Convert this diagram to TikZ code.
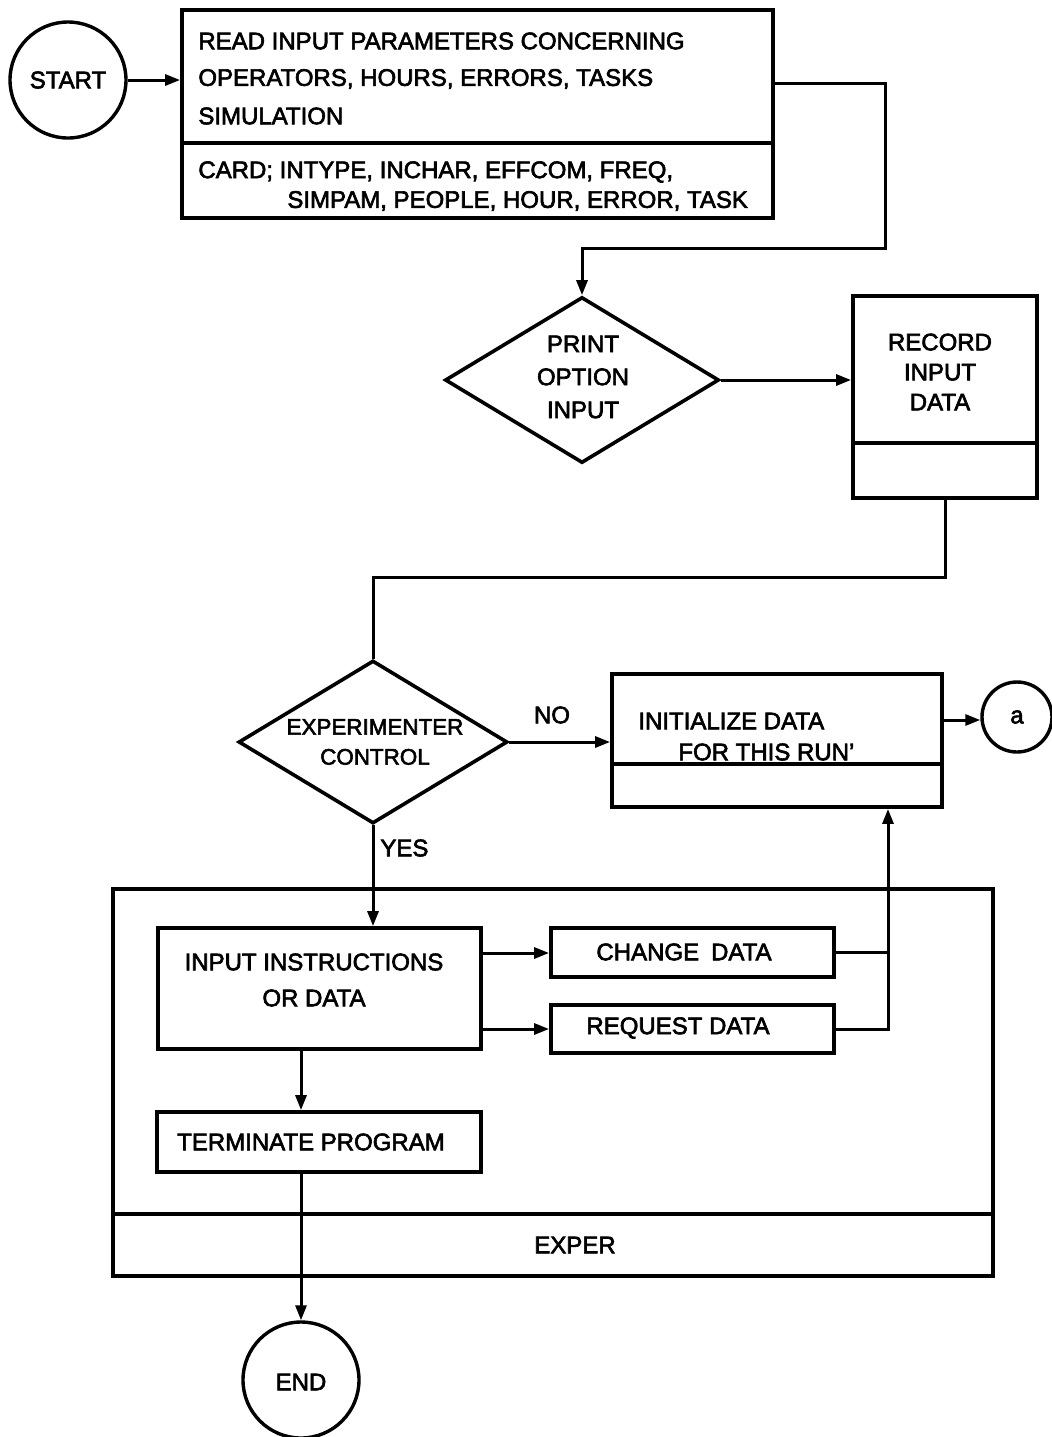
\documentclass[tikz,border=0pt]{standalone}
\usepackage{fontspec}
\setmainfont{Liberation Sans}[FakeBold=2.6]
\usetikzlibrary{shapes.geometric,arrows.meta}
\tikzset{
  boxnode/.style={draw, line width=1.9pt, inner sep=0pt},
  rulerline/.style={line width=1.9pt},
  conn/.style={line width=1.5pt},
  arr/.style={line width=1.5pt, -{Triangle[length=7.5pt,width=5.5pt]}},
  lbl/.style={font=\fontsize{12}{15}\selectfont, inner sep=0pt},
  lblc/.style={lbl, align=center},
  decision/.style={draw, diamond, line width=1.8pt, inner sep=0pt},
  terminal/.style={draw, circle, line width=1.7pt, inner sep=0pt}
}
\begin{document}
\begin{tikzpicture}[x=0.5pt,y=-0.5pt]
\useasboundingbox[fill=white] (0,0) rectangle (1051,1437);

% START
\node[terminal, minimum size=58pt] (start) at (68,80) {};
\node[lbl] (starttxt) at (68,80) {START};

% top box
\node[boxnode, minimum width=295.5pt, minimum height=104pt] (top) at (477.5,114) {};
\draw[rulerline] (top.west |- 0,143) -- (top.east |- 0,143);
\node[lbl, anchor=west] (t1) at (198,41) {READ INPUT PARAMETERS CONCERNING};
\node[lbl, anchor=west] (t2) at (198,79) {OPERATORS, HOURS, ERRORS, TASKS};
\node[lbl, anchor=west] (t3) at (198,116) {SIMULATION};
\node[lbl, anchor=west] (t4) at (198,172) {CARD; INTYPE, INCHAR, EFFCOM, FREQ,};
\node[lbl, anchor=west] (t5) at (287,201) {SIMPAM, PEOPLE, HOUR, ERROR, TASK};
\draw[arr] (start.east) -- (top.west |- start.east);

% print option diamond
\node[decision, minimum width=137pt, minimum height=83pt] (pio) at (582,380) {};
\node[lblc] (piotxt) at (583,377) {PRINT\\[1.5pt]OPTION\\[1.5pt]INPUT};
\draw[arr] (top.east |- 0,83) -- (885,83) -- (885,248) -| (pio.north);

% record input data
\node[boxnode, minimum width=92pt, minimum height=101pt] (rec) at (945,397) {};
\draw[rulerline] (rec.west |- 0,443) -- (rec.east |- 0,443);
\node[lblc] (rectxt) at (940,372) {RECORD\\INPUT\\DATA};
\draw[arr] (pio.east) -- (rec.west |- pio.east);

% experimenter control
\node[decision, minimum width=134.5pt, minimum height=81.5pt] (exp) at (373,742) {};
\node[lblc, font=\fontsize{11.2}{15}\selectfont] (exptxt) at (375,742) {EXPERIMENTER\\CONTROL};
\draw[conn] (rec.south) |- (exp.north |- 0,577) -- (exp.north);

% initialize data
\node[boxnode, minimum width=165pt, minimum height=66.5pt] (init) at (777,740.5) {};
\draw[rulerline] (init.west |- 0,764) -- (init.east |- 0,764);
\node[lbl, anchor=west] (i1) at (638,721) {INITIALIZE DATA};
\node[lbl, anchor=west] (i2) at (678,752) {FOR THIS RUN'};
\node[lbl] (nolbl) at (552,715) {NO};
\draw[arr] (exp.east) -- (init.west |- exp.east);

% connector a
\node[terminal, minimum size=35pt] (cona) at (1017,717) {};
\node[lbl] (conatxt) at (1017,717) {a};
\draw[arr] (init.east |- 0,720) -- (cona.west |- 0,720);

% EXPER box
\node[boxnode, minimum width=440pt, minimum height=193.5pt] (exper) at (553,1082.5) {};
\draw[rulerline] (exper.west |- 0,1214) -- (exper.east |- 0,1214);
\node[lbl] (expertxt) at (575,1245) {EXPER};

% input instructions
\node[boxnode, minimum width=161.5pt, minimum height=60.5pt] (inp) at (319.5,988.5) {};
\node[lblc] (inptxt) at (314,980) {INPUT INSTRUCTIONS\\[3pt]OR DATA};
\node[lbl, anchor=west] (yeslbl) at (380,848) {YES};
\draw[arr] (exp.south) -- (exp.south |- inp.north);

% change / request
\node[boxnode, minimum width=141.5pt, minimum height=24.5pt] (chg) at (692.5,952.5) {};
\node[lbl] (chgtxt) at (684,952) {CHANGE\hspace{0.5em}DATA};
\node[boxnode, minimum width=141.5pt, minimum height=24pt] (req) at (692.5,1029) {};
\node[lbl] (reqtxt) at (678,1028) {REQUEST DATA};
\draw[arr] (inp.east |- 0,953) -- (chg.west |- 0,953);
\draw[arr] (inp.east |- 0,1029) -- (req.west |- 0,1029);
\draw[conn] (chg.east) -- (chg.east -| 888,0);
\draw[arr] (req.east) -| (init.south -| 888,0);

% terminate
\node[boxnode, minimum width=162pt, minimum height=30pt] (term) at (319,1142) {};
\node[lbl] (termtxt) at (311,1142) {TERMINATE PROGRAM};
\draw[arr] (inp.south -| 301,0) -- (term.north -| 301,0);

% END
\node[terminal, minimum size=58pt] (endn) at (301,1380) {};
\node[lbl] (endtxt) at (301,1382) {END};
\draw[arr] (term.south -| 301,0) -- (endn.north);
\end{tikzpicture}
\end{document}
